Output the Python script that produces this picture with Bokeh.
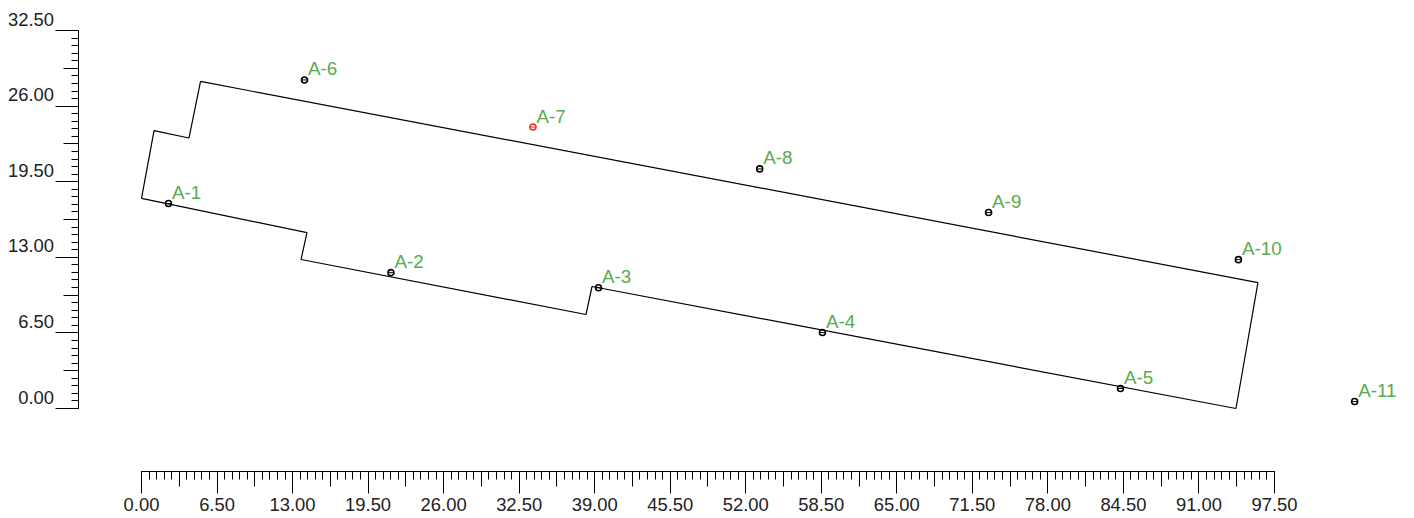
from bokeh.plotting import figure
from bokeh.models import LinearAxis, FixedTicker, Range1d
from bokeh.core.properties import value
from bokeh.embed import file_html
from bokeh.resources import INLINE

outline_x = [0, 14.24, 13.73, 38.25, 38.77, 94.19, 96.08, 5.08, 4.09, 1.08, 0]
outline_y = [18.06, 15.13, 12.81, 8.08, 10.49, 0, 10.83, 28.12, 23.26, 23.90, 18.06]
point_names = ["A-1","A-2","A-3","A-4","A-5","A-6","A-7","A-8","A-9","A-10","A-11"]
point_x = [2.32, 21.47, 39.33, 58.60, 84.25, 14.03, 33.69, 53.20, 72.90, 94.40, 104.40]
point_y = [17.63, 11.68, 10.38, 6.53, 1.72, 28.25, 24.20, 20.60, 16.85, 12.80, 0.60]
point_colors = ["#000000"]*6 + ["#ff2a1a"] + ["#000000"]*4
major_ticks = [0, 6.5, 13, 19.5, 26, 32.5, 39, 45.5, 52, 58.5, 65, 71.5, 78, 84.5, 91, 97.5]
y_major_ticks = [0, 6.5, 13, 19.5, 26, 32.5]
y_major_labels = ["0.00", "6.50", "13.00", "19.50", "26.00", "32.50"]
mid_ticks = [3.25, 9.75, 16.25, 22.75, 29.25, 35.75, 42.25, 48.75, 55.25, 61.75, 68.25, 74.75, 81.25, 87.75, 94.25]
y_mid_ticks = [3.25, 9.75, 16.25, 22.75, 29.25]
minor_ticks = [i * 0.65 for i in range(151)]
y_minor_ticks = [i * 0.65 for i in range(51)]

W, H = 1414, 518
xscale, yscale = 11.62, 11.63
ORIGIN_X, ORIGIN_Y = 141.0, 408
AXIS_X, AXIS_Y = 78, 471
x_start = -ORIGIN_X / xscale
x_end = x_start + W / xscale
y_top = ORIGIN_Y / yscale
y_bottom = y_top - H / yscale
axis_x = (AXIS_X - ORIGIN_X) / xscale
axis_y = (ORIGIN_Y - AXIS_Y) / yscale

p = figure(width=W, height=H, output_backend="svg", toolbar_location=None,
           x_range=Range1d(x_start, x_end), y_range=Range1d(y_bottom, y_top),
           x_axis_type=None, y_axis_type=None, min_border=0, outline_line_color=None)
p.xgrid.visible = False
p.ygrid.visible = False

def style(ax, ticks, length, labels=False):
    ax.ticker = FixedTicker(ticks=ticks)
    ax.major_tick_in = 0
    ax.major_tick_out = length
    ax.minor_tick_line_color = None
    ax.major_tick_line_color = "#000000"
    ax.major_tick_line_width = 1
    ax.axis_line_color = "#000000"
    ax.axis_line_width = 1
    if labels:
        ax.major_label_text_font = "Liberation Sans"
        ax.major_label_text_font_size = "18.4px"
        ax.major_label_text_color = "#222222"
        ax.major_label_standoff = 4
        ax.major_label_overrides = {t: f"{t:.2f}" for t in ticks}
    else:
        ax.major_label_overrides = {t: "" for t in ticks}

for t, l, lab in [(major_ticks, 22, True), (mid_ticks, 15, False), (minor_ticks, 8, False)]:
    a = LinearAxis(fixed_location=axis_y, bounds=(0, 97.5))
    style(a, t, l, lab)
    p.add_layout(a, "below")
for t, l in [(y_major_ticks, 23), (y_mid_ticks, 15), (y_minor_ticks, 7)]:
    a = LinearAxis(fixed_location=axis_x, bounds=(0, 32.5))
    style(a, t, l, False)
    p.add_layout(a, "left")

p.text([axis_x] * len(y_major_ticks), y_major_ticks, text=y_major_labels, x_offset=-24.5, y_offset=-5,
       text_font=value("Liberation Sans"), text_font_size="18.4px", text_color="#222222",
       text_align="right", text_baseline="bottom")

p.line(outline_x, outline_y, line_color="#000000", line_width=1.2)
p.scatter(point_x, point_y, size=6, marker="circle", fill_color=None, line_color=point_colors, line_width=1.6)
p.scatter(point_x, point_y, size=5, marker="dash", line_color=point_colors, line_width=1)
p.text(point_x, point_y, text=point_names, x_offset=3.5, y_offset=-0.5, text_font=value("Liberation Sans"),
       text_font_size="18.8px", text_color="#58ab4e", text_baseline="bottom", text_align="left")

open("out.html", "w").write(file_html(p, INLINE))
